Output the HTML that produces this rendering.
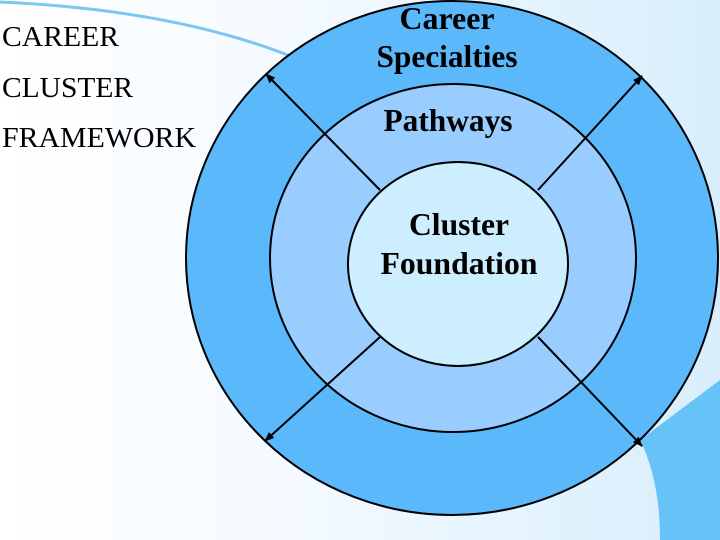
<!DOCTYPE html>
<html><head><style>
body{margin:0;width:720px;height:540px;overflow:hidden;background:linear-gradient(90deg,#ffffff 0%,#f4faff 40%,#d8eefc 100%);font-family:"Liberation Serif",serif}
svg{position:absolute;left:0;top:0}
</style></head><body>
<svg width="720" height="540" viewBox="0 0 720 540">
<defs><marker id="a" markerWidth="10" markerHeight="10" refX="9" refY="5" orient="auto" markerUnits="userSpaceOnUse"><path d="M0,1 L10,5 L0,9 Z" fill="#000"/></marker></defs>
<path d="M0,2 Q180,10 300,60" stroke="#7cc6ef" stroke-width="3" fill="none"/>
<path d="M640,440 Q660,480 660,540 L720,540 L720,380 Z" fill="#66c3f8"/>
<ellipse cx="452" cy="258" rx="266" ry="257" fill="#5bb8fb" stroke="#000" stroke-width="2"/>
<ellipse cx="453" cy="258" rx="183" ry="174" fill="#99ccff" stroke="#000" stroke-width="2"/>
<ellipse cx="458" cy="264" rx="110" ry="102" fill="#cceeff" stroke="#000" stroke-width="2"/>
<g stroke="#000" stroke-width="2" marker-end="url(#a)">
<line x1="380" y1="190" x2="266" y2="74"/>
<line x1="538" y1="190" x2="642" y2="76"/>
<line x1="380" y1="337" x2="265" y2="441"/>
<line x1="538" y1="337" x2="642" y2="446"/>
</g>
<g font-family="Liberation Serif, serif" font-size="28" fill="#000">
<text x="2" y="46" textLength="117" lengthAdjust="spacingAndGlyphs">CAREER</text>
<text x="2" y="97" textLength="131" lengthAdjust="spacingAndGlyphs">CLUSTER</text>
<text x="2" y="147" textLength="194" lengthAdjust="spacingAndGlyphs">FRAMEWORK</text>
</g>
<g font-family="Liberation Serif, serif" font-size="32" font-weight="bold" text-anchor="middle" fill="#000">
<text x="447" y="29" textLength="95" lengthAdjust="spacingAndGlyphs">Career</text>
<text x="447" y="67" textLength="141" lengthAdjust="spacingAndGlyphs">Specialties</text>
<text x="448" y="131" textLength="129" lengthAdjust="spacingAndGlyphs">Pathways</text>
<text x="459" y="235" textLength="100" lengthAdjust="spacingAndGlyphs">Cluster</text>
<text x="459" y="274" textLength="157" lengthAdjust="spacingAndGlyphs">Foundation</text>
</g>
</svg>
</body></html>
